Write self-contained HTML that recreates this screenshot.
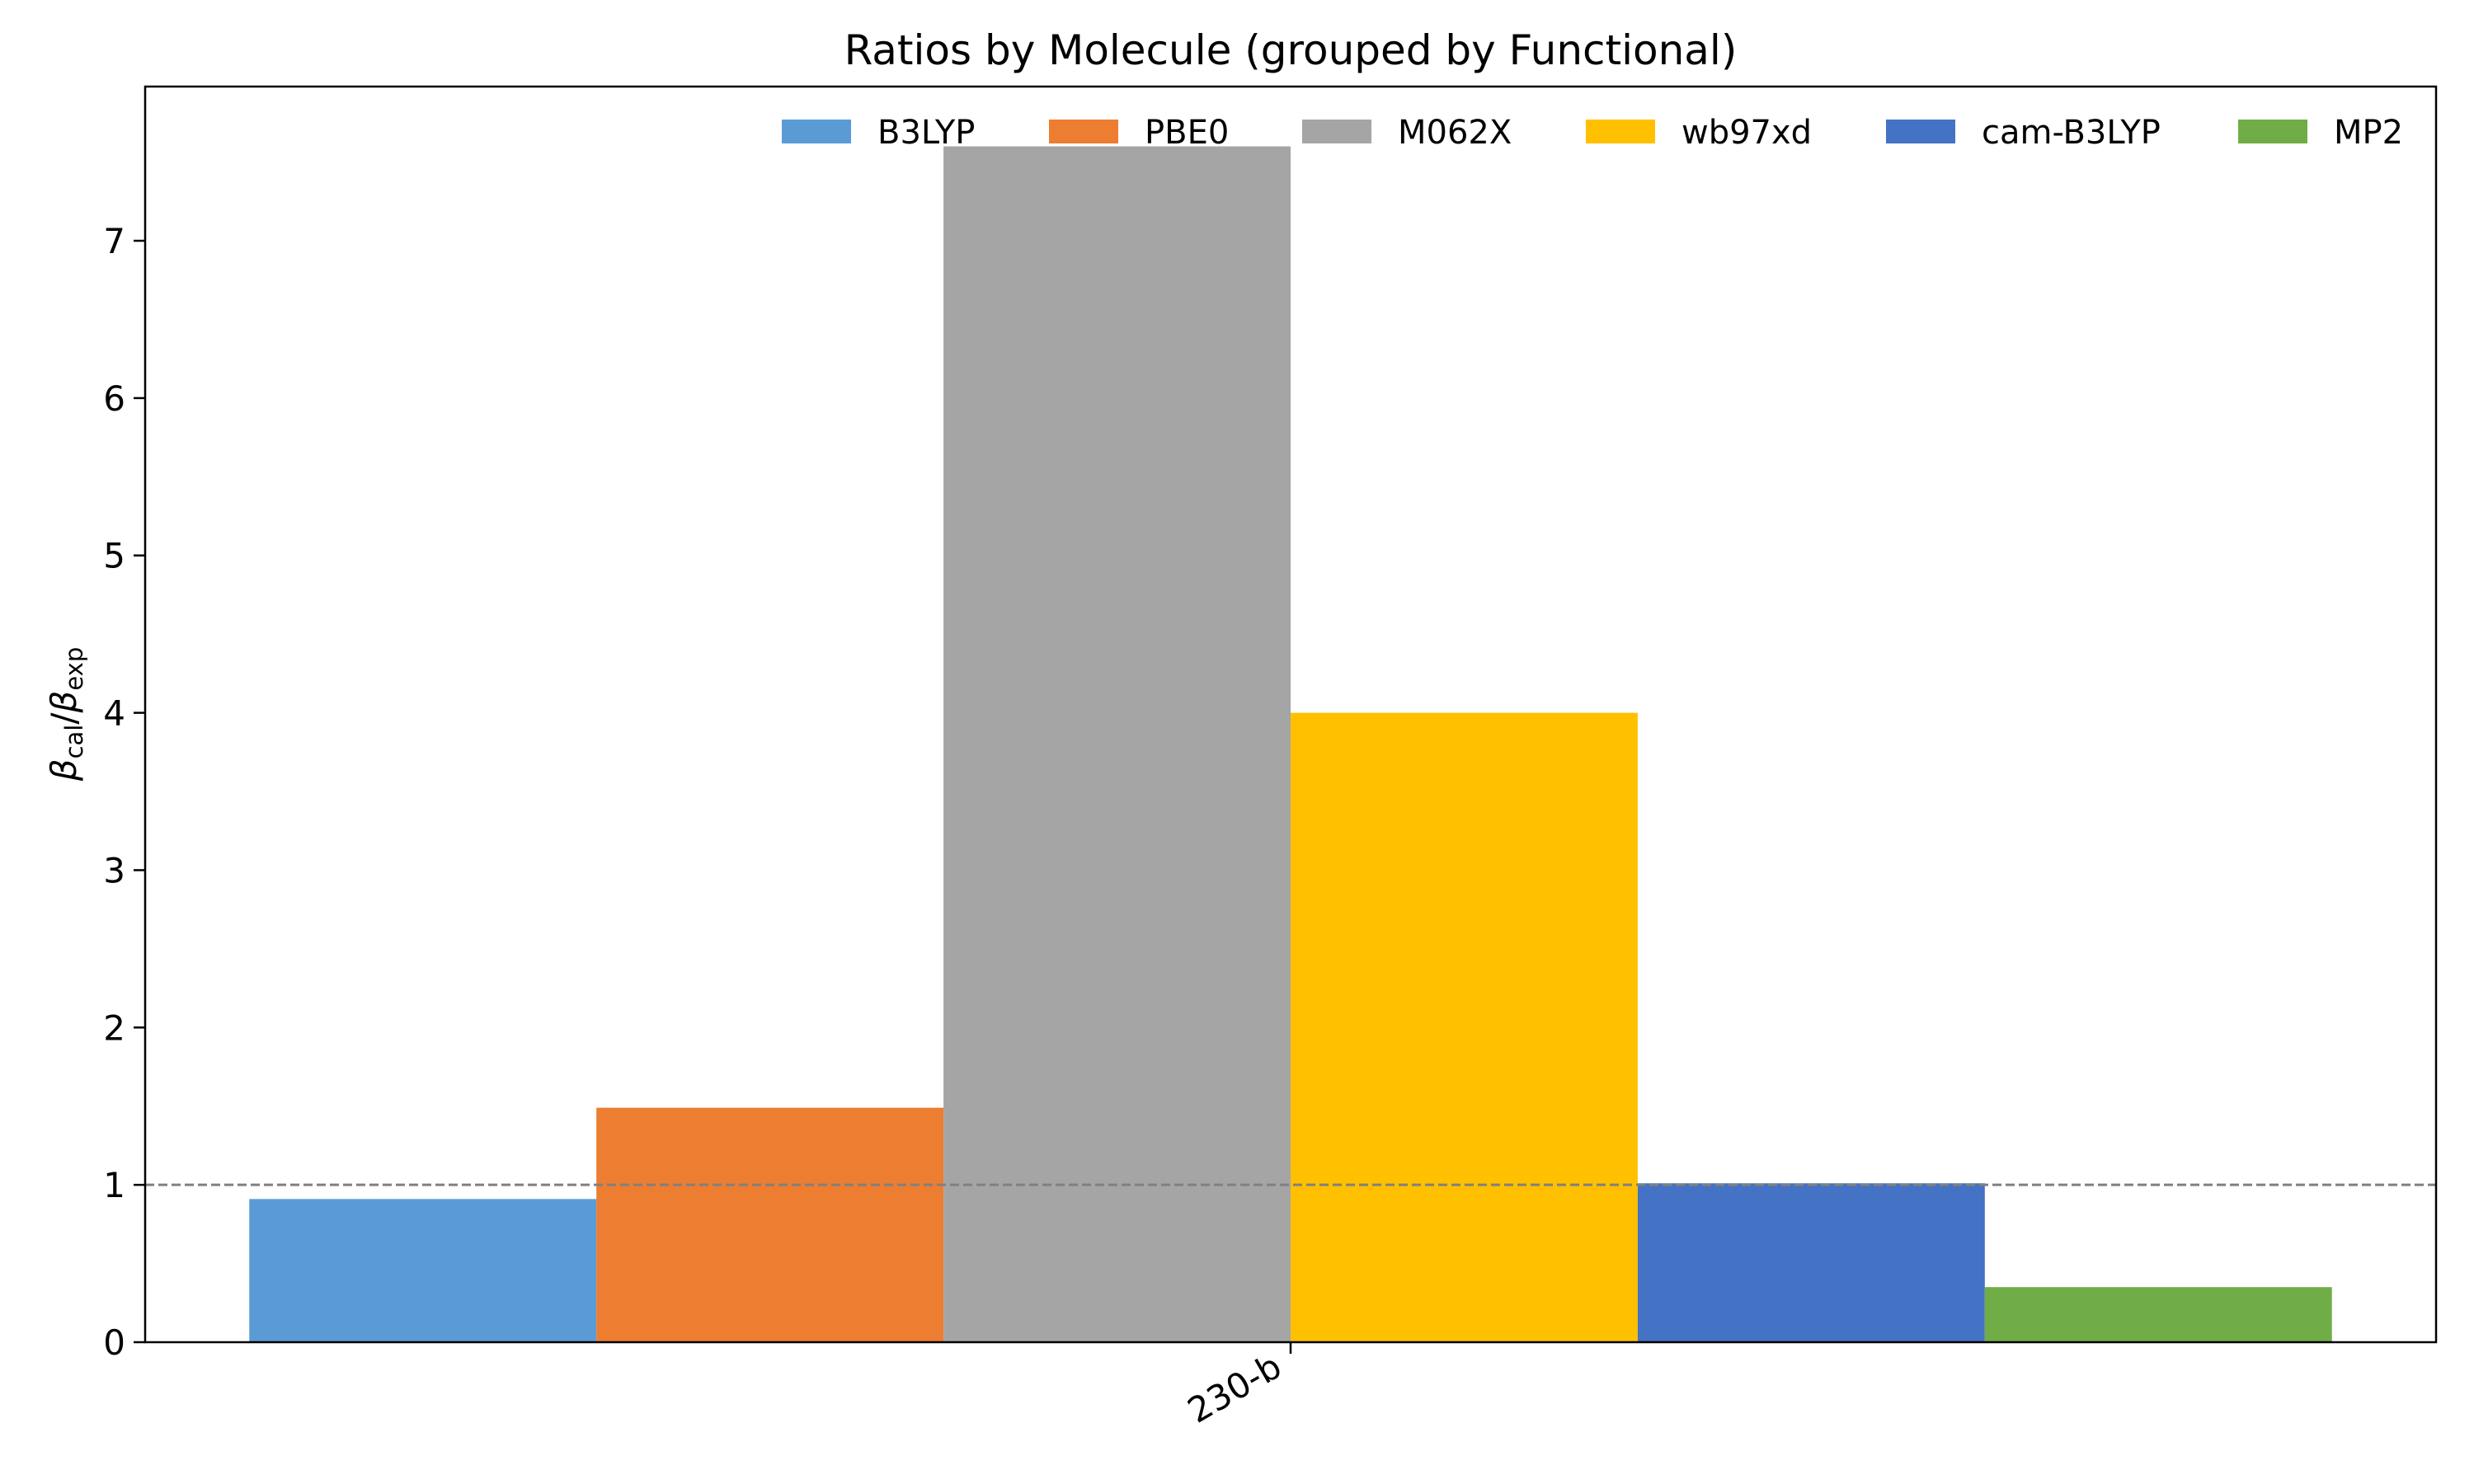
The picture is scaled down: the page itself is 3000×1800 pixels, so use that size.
<!DOCTYPE html>
<html><head><meta charset="utf-8"><style>
html,body{margin:0;padding:0;background:#fff;}
svg{display:block;font-family:"DejaVu Sans","Liberation Sans",sans-serif;}
</style></head><body>
<svg id="chart" width="3000" height="1800" viewBox="0 0 3000 1800" xmlns="http://www.w3.org/2000/svg">
<rect width="3000" height="1800" fill="#fff"/>
<text x="1565" y="78" font-size="50" text-anchor="middle">Ratios by Molecule (grouped by Functional)</text>
<g id="bars"></g>
<g id="yticks"></g>
<line x1="176" x2="2954" id="refline" stroke="#808080" stroke-width="3" stroke-dasharray="11,5"/>
<rect x="176" y="105" width="2778" height="1523" fill="none" stroke="#000" stroke-width="2.5"/>
<g id="xtick"></g>
<text transform="translate(92,866) rotate(-90)" font-size="42" text-anchor="middle"><tspan font-style="italic">β</tspan><tspan font-size="29" dy="8">cal</tspan><tspan dy="-8">/</tspan><tspan font-style="italic">β</tspan><tspan font-size="29" dy="8">exp</tspan></text>
<g id="legend"></g>
</svg>
<script>
const categories = ["230-b"];
const functionals = ["B3LYP","PBE0","M062X","wb97xd","cam-B3LYP","MP2"];
const values = [0.91, 1.49, 7.6, 4.0, 1.01, 0.35];
const colors = ["#5b9bd5","#ed7d31","#a5a5a5","#ffc000","#4472c4","#70ad47"];
const yTicks = [0,1,2,3,4,5,6,7];
const NS="http://www.w3.org/2000/svg";
const L=176,R=2954,T=105,B=1628;
const yMax=Math.max(...values)*1.05;
const y=v=>B-(v/yMax)*(B-T);
const x=v=>L+(v+0.44)/0.88*(R-L);
function mk(t,a,p){const e=document.createElementNS(NS,t);for(const k in a)e.setAttribute(k,a[k]);p.appendChild(e);return e;}
const bw=0.8/functionals.length;
const gb=document.getElementById('bars');
functionals.forEach((f,i)=>{
  const x0=x(-0.4+i*bw),x1=x(-0.4+(i+1)*bw);
  const r=mk('rect',{x:x0,y:y(values[i]),width:x1-x0,height:B-y(values[i]),fill:colors[i]},gb);
  
  
});
const yt=document.getElementById('yticks');
yTicks.forEach(t=>{
  const l=mk('line',{x1:L-14,x2:L,y1:y(t),y2:y(t),stroke:'#000','stroke-width':2.5},yt);
  
  
  const tx=mk('text',{x:L-24,y:y(t)+15,'font-size':42,'text-anchor':'end'},yt);
  tx.textContent=t;
  
  
});
const rl=document.getElementById('refline');
rl.setAttribute('y1',y(1));rl.setAttribute('y2',y(1));
const xt=document.getElementById('xtick');
categories.forEach((c,i)=>{
  const cx=x(i);
  const l=mk('line',{x1:cx,x2:cx,y1:B,y2:B+14,stroke:'#000','stroke-width':2.5},xt);
  
  
  const tx=mk('text',{transform:`translate(${cx-8},${B+38}) rotate(-30)`,'font-size':42,'text-anchor':'end'},xt);
  tx.textContent=c;
  
  
});
const lg=document.getElementById('legend');
const lx=[948,1272,1579,1923,2287,2714];
functionals.forEach((f,i)=>{
  const g=mk('g',{},lg);
  
  
  mk('rect',{x:lx[i],y:145,width:84,height:29,fill:colors[i]},g);
  const t=mk('text',{x:lx[i]+116,y:174,'font-size':40},g);
  t.textContent=f;
});
</script>
</body></html>
